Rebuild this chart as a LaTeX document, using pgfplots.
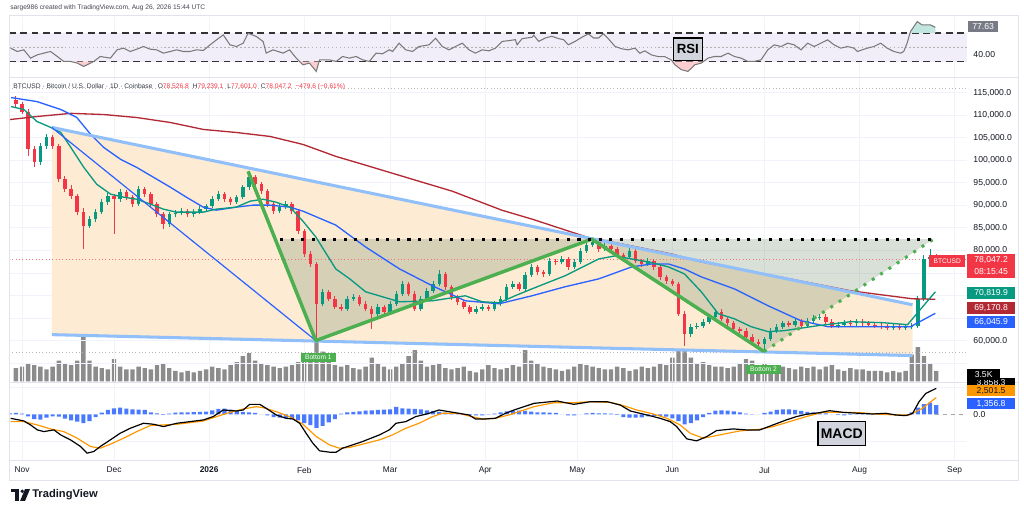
\documentclass[border=0pt]{standalone}
\usepackage{fontspec}
\setmainfont{Liberation Sans}
\usepackage{pgfplots}
\usepackage{pgfplotstable}
\pgfplotsset{compat=1.18}
\definecolor{upc}{HTML}{089981}
\definecolor{dnc}{HTML}{F23645}
\definecolor{mared}{HTML}{B22833}
\definecolor{mablue}{HTML}{2962FF}
\definecolor{magreen}{HTML}{089981}
\definecolor{wedgec}{HTML}{90BFF9}
\definecolor{wgreen}{HTML}{4CAF50}
\definecolor{peach}{HTML}{FDEBD3}
\definecolor{olivec}{RGB}{100,130,100}
\definecolor{volc}{HTML}{8C8C8C}
\definecolor{histc}{HTML}{2962FF}
\definecolor{sigc}{HTML}{FF9800}
\definecolor{rsiband}{HTML}{F2EEF9}
\definecolor{rsiline}{HTML}{7A7A7A}
\definecolor{gridc}{HTML}{F0F3FA}
\definecolor{framec}{HTML}{E0E3EB}
\definecolor{labc}{HTML}{131722}
\definecolor{scalegray}{HTML}{787B86}
\definecolor{boxgray}{HTML}{D1D4DC}
\newcommand\fH{\fontsize{5}{6}\selectfont}
\newcommand\fP{\fontsize{6.5}{7.5}\selectfont}
\newcommand\fM{\fontsize{6.3}{7.5}\selectfont}
\newcommand\fS{\fontsize{5}{6}\selectfont}

% candles (2-day), prices in thousands of USD
\pgfplotstableread{
d o h l c
-2 113.4 114.2 111.8 112.4
0 112.4 113.0 110.3 110.8
2 110.8 111.3 101.0 102.4
4 102.4 103.2 98.6 99.5
6 99.5 103.8 99.0 103.1
8 103.1 105.8 102.6 105.1
10 105.1 105.6 102.5 103.1
12 103.1 103.6 95.2 95.8
14 95.8 96.5 93.0 93.6
16 93.6 94.4 91.4 92.0
18 92.0 92.6 87.8 88.5
20 88.5 89.3 80.3 85.4
22 85.4 87.6 84.9 86.9
24 86.9 89.2 86.4 88.5
26 88.5 91.3 88.0 90.7
28 90.7 92.8 90.1 92.0
30 92.0 92.6 83.6 91.4
32 91.4 93.6 90.8 92.9
34 92.9 93.4 91.1 91.8
36 91.8 92.3 89.6 90.3
38 90.3 94.3 89.8 93.6
40 93.6 94.1 91.9 92.5
42 92.5 93.0 89.7 90.3
44 90.3 90.8 87.4 88.0
46 88.0 88.6 84.7 85.8
48 85.8 88.6 85.3 88.0
50 88.0 88.9 87.4 88.3
52 88.3 89.3 87.8 88.7
54 88.7 89.2 87.4 88.0
56 88.0 89.1 87.5 88.5
58 88.5 89.8 88.0 89.2
60 89.2 90.4 88.7 89.8
62 89.8 92.0 89.3 91.4
64 91.4 93.2 90.9 92.5
66 92.5 93.0 90.8 91.4
68 91.4 91.9 90.1 90.7
70 90.7 92.4 90.2 91.8
72 91.8 94.6 91.3 94.0
74 94.0 97.5 93.5 96.2
76 96.2 96.8 94.1 94.7
78 94.7 95.2 92.5 93.1
80 93.1 93.6 89.7 90.3
82 90.3 90.9 88.1 88.7
84 88.7 90.2 88.2 89.6
86 89.6 90.9 89.1 90.3
88 90.3 90.8 88.1 88.7
90 88.7 89.2 83.7 84.3
92 84.3 84.8 78.6 79.2
94 79.2 79.8 76.4 77.0
96 77.0 77.5 59.9 68.2
98 68.2 71.5 67.6 70.8
100 70.8 71.3 68.7 69.3
102 69.3 69.9 66.9 67.5
104 67.5 68.1 66.5 67.1
106 67.1 69.9 66.6 69.3
108 69.3 70.4 68.8 69.7
110 69.7 70.2 67.6 68.2
112 68.2 68.7 66.5 67.1
114 67.1 67.6 62.6 66.0
116 66.0 68.1 65.5 67.5
118 67.5 68.0 65.8 66.4
120 66.4 68.8 65.9 68.2
122 68.2 71.0 67.7 70.4
124 70.4 73.2 69.9 72.6
126 72.6 73.1 69.8 70.4
128 70.4 70.9 66.5 67.1
130 67.1 69.9 66.6 69.3
132 69.3 71.6 68.8 71.0
134 71.0 73.2 70.5 72.6
136 72.6 75.7 72.1 74.8
138 74.8 75.3 71.3 71.9
140 71.9 72.4 69.1 69.7
142 69.7 70.2 68.0 68.6
144 68.6 69.1 66.9 67.5
146 67.5 68.0 65.8 66.4
148 66.4 67.7 65.9 67.1
150 67.1 68.1 66.6 67.5
152 67.5 68.0 66.5 67.1
154 67.1 68.8 66.6 68.2
156 68.2 69.9 67.7 69.3
158 69.3 72.5 68.8 71.9
160 71.9 73.2 71.4 72.6
162 72.6 73.1 70.9 71.5
164 71.5 75.2 71.0 74.6
166 74.6 76.9 74.1 76.3
168 76.3 76.8 74.6 75.2
170 75.2 75.7 74.2 74.8
172 74.8 78.3 74.3 77.7
174 77.7 78.2 76.8 77.4
176 77.4 78.7 76.9 78.1
178 78.1 78.6 75.7 76.3
180 76.3 78.0 75.8 77.4
182 77.4 80.5 76.9 79.9
184 79.9 81.8 79.4 81.2
186 81.2 82.5 80.7 81.9
188 81.9 82.4 79.7 80.3
190 80.3 81.6 79.8 81.0
192 81.0 81.5 79.7 80.3
194 80.3 80.8 78.4 79.0
196 79.0 79.5 77.9 78.5
198 78.5 80.5 78.0 79.9
200 79.9 80.4 77.1 77.7
202 77.7 78.2 76.4 77.0
204 77.0 78.3 76.5 77.7
206 77.7 78.2 75.7 76.3
208 76.3 76.8 73.5 74.1
210 74.1 74.6 72.6 73.2
212 73.2 73.7 72.0 72.6
214 72.6 73.1 65.4 66.0
216 66.0 66.5 58.9 61.5
218 61.5 63.7 60.9 63.1
220 63.1 63.9 62.6 63.3
222 63.3 64.8 62.8 64.2
224 64.2 65.9 63.7 65.3
226 65.3 67.0 64.8 66.4
228 66.4 66.9 64.3 64.9
230 64.9 65.4 63.2 63.8
232 63.8 64.3 62.0 62.6
234 62.6 63.1 61.6 62.2
236 62.2 62.7 60.3 60.9
238 60.9 61.4 59.2 59.8
240 59.8 60.3 58.7 59.3
242 59.3 60.9 57.8 60.4
244 60.4 62.8 59.9 62.2
246 62.2 63.7 61.7 63.1
248 63.1 64.4 62.6 63.8
250 63.8 64.3 63.0 63.5
252 63.5 65.0 63.0 64.4
254 64.4 64.9 62.7 63.3
256 63.3 65.0 62.8 64.4
258 64.4 65.7 63.9 65.1
260 65.1 65.9 64.6 65.3
262 65.3 65.8 63.6 64.2
264 64.2 64.7 62.7 63.3
266 63.3 64.1 62.8 63.5
268 63.5 64.6 63.0 64.0
270 64.0 64.5 63.2 63.8
272 63.8 64.8 63.3 64.2
274 64.2 64.7 63.2 63.8
276 63.8 64.3 63.0 63.5
278 63.5 64.0 62.7 63.3
280 63.3 63.8 62.5 63.1
282 63.1 63.6 62.3 62.9
284 62.9 63.6 62.4 63.1
286 63.1 63.6 62.3 62.9
288 62.9 63.5 62.4 63.0
290 63.0 63.8 62.5 63.3
292 63.3 70.0 62.8 69.3
294 69.3 79.0 68.8 78.1
296 78.1 80.4 76.8 78.5
298 78.5 79.2 77.6 78.0
}\candles

% volume (thousands)
\pgfplotstableread{
d v
-2 4.5
0 5
2 6
4 5.5
6 5
8 4
10 5
12 7
14 6
16 5.5
18 7
20 15.5
22 7
24 5
26 4.5
28 4
30 7.5
32 5
34 4
36 4
38 5
40 4.5
42 4
44 5.5
46 6
48 4.5
50 3.5
52 3
54 3.5
56 3
58 3.5
60 4
62 5
64 4.5
66 4
68 5.5
70 6.5
72 8.5
74 9.5
76 7
78 6
80 5.5
82 5
84 4.5
86 5
88 5.5
90 6.5
92 7.5
94 9
96 13.5
98 10
100 7
102 5.5
104 5
106 5.5
108 4.5
110 4
112 5
114 8
116 6
118 5
120 4
122 5
124 6
126 8.5
128 10.5
130 7
132 5
134 5.5
136 6
138 4.5
140 4
142 4.5
144 5
146 3.5
148 3
150 4
152 5.5
154 4.5
156 4
158 4.5
160 5.5
162 5
164 10.5
166 7
168 6
170 5
172 4.5
174 4
176 3.5
178 4
180 5
182 6
184 5.5
186 5
188 4.5
190 4
192 4
194 5
196 4.5
198 3.5
200 4
202 5
204 4.5
206 5
208 6
210 5.5
212 8
214 11
216 13
218 8
220 6
222 6.5
224 5.5
226 5
228 5
230 4.5
232 5
234 6
236 7.5
238 7
240 5.5
242 6
244 4.5
246 4
248 5
250 4.5
252 4
254 5
256 4.5
258 5
260 4
262 5
264 5.5
266 4
268 3.5
270 4.5
272 4
274 4
276 3.5
278 3.5
280 3.5
282 3
284 3.5
286 3
288 3.5
290 9
292 11.5
294 8.5
296 6
298 3.5
}\vol

\pgfplotstableread{
d r
-3.7 48.8
-1.5 44.2
0.6 46.5
2.8 35.0
5.0 39.6
7.1 41.9
9.3 44.2
11.5 37.3
13.6 30.4
15.8 30.4
18.0 28.1
20.1 23.5
21.2 25.8
23.4 30.4
25.5 37.3
28.8 35.0
31.0 46.5
33.1 48.8
35.3 44.2
37.4 47.4
39.6 51.1
41.8 47.4
43.9 46.5
46.1 41.9
48.3 44.2
50.4 46.5
52.6 44.2
54.8 44.2
56.9 46.5
59.1 45.6
61.3 53.4
63.4 60.3
65.6 67.2
67.8 53.4
69.9 51.1
72.1 55.7
73.7 69.5
76.4 64.9
78.6 58.0
79.6 41.9
81.8 46.5
85.1 41.9
87.2 46.5
89.4 35.0
91.6 25.8
93.7 28.1
95.9 16.6
97.0 32.7
100.2 32.7
102.4 30.4
104.5 37.3
106.7 35.0
108.9 37.3
111.0 32.7
113.2 30.4
115.4 41.9
117.5 41.0
119.7 46.5
120.8 44.2
122.9 55.7
125.1 46.5
127.3 44.2
129.4 51.1
132.7 53.4
134.8 62.6
137.0 51.1
139.2 46.5
141.3 51.1
143.5 55.7
145.7 46.5
147.8 41.9
150.0 46.5
152.2 45.1
154.3 48.8
156.5 58.2
158.7 59.2
160.8 60.6
161.4 53.5
163.0 62.0
166.2 63.9
166.8 66.7
168.4 58.2
170.6 62.9
172.7 65.3
174.9 62.0
176.5 60.6
178.1 53.5
180.3 58.2
182.5 63.9
184.6 68.6
186.3 62.9
187.9 62.9
189.5 68.6
191.1 62.0
193.3 51.2
195.5 47.9
197.6 46.5
199.8 48.8
201.4 41.8
203.0 45.1
205.2 39.4
207.4 37.1
209.5 37.1
211.7 32.4
212.8 25.8
214.9 19.0
217.1 16.6
219.3 25.8
221.4 28.1
223.6 35.0
225.7 37.3
227.9 37.3
230.1 41.9
232.2 37.3
234.4 35.0
236.6 30.4
238.7 30.4
240.9 32.7
243.1 46.5
245.2 53.4
247.4 51.1
249.6 55.7
251.7 53.4
253.9 46.5
256.1 55.7
258.2 51.1
260.4 55.7
262.6 60.3
264.7 53.4
266.9 48.8
269.1 51.1
271.2 48.8
272.3 44.2
275.5 48.8
277.7 51.1
279.9 55.7
282.0 48.8
284.2 44.2
286.4 41.9
287.4 44.2
288.5 55.7
289.6 71.8
291.8 85.6
293.4 81.0
296.1 81.0
297.7 77.63
}\rsi

\pgfplotstableread{
d m
-3.7 -592
0.6 -986
2.8 -1578
5.0 -2318
7.1 -2565
10.4 -2318
12.6 -3058
15.8 -3798
19.1 -4785
21.2 -5772
23.4 -5525
25.5 -4785
28.8 -3798
32.0 -2811
35.3 -2071
39.6 -1332
42.9 -1480
46.1 -1825
50.4 -1332
54.8 -1085
59.1 -838
62.3 -345
65.6 642
69.9 494
72.1 642
74.2 1480
77.5 1480
79.6 888
82.9 -99
86.1 -592
88.3 -691
90.5 -1332
92.6 -2811
94.8 -4291
97.0 -5426
100.2 -5624
102.4 -5624
104.5 -5031
107.8 -4538
111.0 -4045
113.2 -3650
116.5 -3058
119.7 -2318
121.9 -1332
125.1 -1085
128.3 -345
132.7 148
135.9 642
139.2 395
142.4 148
145.7 -99
147.8 -691
151.1 -691
154.3 -592
157.6 148
160.4 642
166.9 1628
174.5 1974
179.9 1480
185.3 1875
190.7 1875
195.0 1382
198.3 494
203.7 -99
208.0 -592
211.3 -1085
213.4 -1825
215.6 -3058
216.7 -3650
219.9 -3946
223.2 -3305
226.4 -2417
231.8 -2170
236.1 -2318
240.5 -2318
244.8 -1578
249.1 -838
252.4 -345
255.6 0
260.0 247
263.2 543
267.5 296
272.9 148
277.3 50
281.6 148
284.8 -99
288.1 -197
290.3 148
292.4 1875
294.6 3108
298 3858.3
}\macd

\pgfplotstableread{
d s
-3.7 -1085
0.6 -1085
5.0 -1578
9.3 -2170
13.6 -2565
18.0 -3551
22.3 -4785
25.5 -5031
28.8 -4439
33.1 -3551
37.4 -2565
41.8 -1677
46.1 -1578
50.4 -1480
54.8 -1233
59.1 -986
63.4 -345
67.8 296
72.1 790
76.4 1135
78.6 987
82.9 395
87.2 -345
91.6 -1480
95.9 -3305
100.2 -4538
103.4 -5031
106.7 -4932
111.0 -4439
116.5 -3798
120.8 -3058
125.1 -2071
129.4 -1332
133.8 -345
137.0 148
142.4 148
145.7 -247
150.0 -691
154.3 -592
158.7 -99
160.4 148
166.9 1135
173.4 1727
179.9 1727
185.3 1875
191.8 1776
196.1 1283
200.4 642
205.8 50
210.2 -592
214.5 -1578
217.8 -2811
222.1 -3551
227.5 -3058
234.0 -2466
240.5 -2219
244.8 -1825
250.2 -1085
255.6 -345
261.0 296
266.5 296
272.9 247
278.3 50
284.8 -99
289.2 -99
293.5 888
298 2501.5
}\sig

\pgfplotstableread{
d h
-4 150
-2 200
0 100
2 -300
4 -700
6 -800
8 -500
10 -300
12 -350
14 -650
16 -900
18 -1100
20 -1300
22 -1000
24 -400
26 250
28 650
30 900
32 980
34 850
36 750
38 700
40 650
42 300
44 150
46 -100
48 100
50 250
52 280
54 300
56 320
58 350
60 400
62 600
64 800
66 850
68 700
70 500
72 350
74 300
76 200
78 0
80 -150
82 -400
84 -500
86 -600
88 -700
90 -900
92 -1300
94 -1600
96 -2000
98 -1700
100 -1200
102 -700
104 100
106 300
108 350
110 450
112 550
114 600
116 650
118 700
120 750
122 1100
124 900
126 850
128 800
130 750
132 600
134 500
136 350
138 250
140 200
142 150
144 50
146 -100
148 -150
150 -150
152 -50
154 100
156 300
158 450
160 550
162 550
164 500
166 400
168 300
170 300
172 250
174 200
176 0
178 -150
180 -150
182 0
184 150
186 200
188 150
190 150
192 100
194 -100
196 -400
198 -500
200 -500
202 -450
204 -300
206 -250
208 -250
210 -350
212 -600
214 -1000
216 -1500
218 -1300
220 -900
222 -400
224 200
226 550
228 600
230 550
232 450
234 300
236 100
238 -50
240 0
242 200
244 400
246 650
248 750
250 750
252 650
254 500
256 350
258 300
260 250
262 150
264 0
266 -100
268 -150
270 -100
272 -50
274 50
276 50
278 0
280 50
282 50
284 0
286 -50
288 -50
290 300
292 1000
294 1500
296 1750
298 1356.8
}\hist

\pgfplotsset{tvbase/.style={scale only axis, width=721.5pt, xmin=-4.2, xmax=308.1,
  anchor=south west, axis line style={draw=none}, tick style={draw=none},
  xtick={0,30,61,92,120,151,181,212,242,273,304}, xticklabels={},
  grid style={color=gridc, line width=0.6pt}}}

\begin{document}
\begin{tikzpicture}
\begin{scope}[x=0.75pt,y=-0.75pt]
\path[use as bounding box] (0,0) rectangle (1024,516);
\end{scope}

% ---------- volume (overlay, drawn first) ----------
\begin{axis}[tvbase, at={(3.75pt,-287.25pt)}, height=228.75pt, ymin=0, ymax=101.67, hide axis]
\addplot[ybar, bar width=3.3pt, bar shift=0pt, fill=volc, draw=none] table[x=d,y=v]{\vol};
\end{axis}

% ---------- main price pane ----------
\begin{axis}[tvbase, at={(3.75pt,-287.25pt)}, height=228.75pt, ymin=50.94, ymax=118.31,
  xmajorgrids, ymajorgrids, ytick={55,60,...,115},
  yticklabels={{},{60,000.0},{},{},{},{80,000.0},{85,000.0},{90,000.0},{95,000.0},{100,000.0},{105,000.0},{110,000.0},{115,000.0}},
  yticklabel pos=right,
  yticklabel style={font=\fP, text=labc, anchor=west, inner sep=0pt, xshift=4.5pt}]
\addplot[fill=peach, draw=none] coordinates {(9.74,107.27) (290.26,67.95) (290.26,56.68) (9.74,61.32)};
\addplot[fill=olivec, fill opacity=0.25, draw=none] coordinates {(84.09,82.5) (185.71,82.5) (95.78,60.0) (84.09,79.88)};
\addplot[fill=olivec, fill opacity=0.25, draw=none] coordinates {(185.71,82.5) (241.88,57.57) (297.08,82.5)};
\addplot[gray!55, dotted, line width=0.5pt] coordinates {(-4.2,115.88) (308.1,115.88)};
\addplot[gray!55, dotted, line width=0.5pt] coordinates {(-4.2,57.35) (308.1,57.35)};
\addplot[dnc!70, dotted, line width=0.5pt] coordinates {(-4.2,78.05) (308.1,78.05)};
% candles: wicks then bodies
\addplot[upc, line width=0.75pt, quiver={u=0, v={(\thisrow{h}-\thisrow{l})*(\thisrow{c}>=\thisrow{o})}}] table[x=d,y=l]{\candles};
\addplot[dnc, line width=0.75pt, quiver={u=0, v={(\thisrow{h}-\thisrow{l})*(\thisrow{c}<\thisrow{o})}}] table[x=d,y=l]{\candles};
\addplot[upc, line width=2.6pt, quiver={u=0, v={(\thisrow{c}-\thisrow{o})*(\thisrow{c}>=\thisrow{o})}}] table[x=d,y=o]{\candles};
\addplot[dnc, line width=2.6pt, quiver={u=0, v={(\thisrow{c}-\thisrow{o})*(\thisrow{c}<\thisrow{o})}}] table[x=d,y=o]{\candles};
% moving averages
\addplot[mared, line width=1pt] coordinates {(-4.22,109.0) (4.87,109.7) (15.91,110.4) (26.62,110.14) (37.34,109.48) (48.38,108.37) (59.09,106.83) (69.81,106.16) (80.84,105.28) (91.56,103.51) (102.27,100.86) (111.04,99.1) (124.03,96.44) (140.26,93.13) (156.49,88.9) (166.2,86.95) (185.06,82.75) (188.96,82.31) (211.7,79.21) (221.4,77.45) (241.9,74.80) (270.1,71.04) (290.3,69.27) (297.7,69.17)};
\addplot[mablue, line width=1pt] coordinates {(-3.57,113.9) (4.87,113.01) (12.66,111.25) (17.86,109.48) (22.40,105.72) (26.62,102.85) (32.14,100.2) (37.34,98.43) (42.86,96.22) (48.38,94.01) (53.57,91.81) (59.09,89.6) (63.31,88.93) (69.81,89.6) (75.32,90.04) (80.84,90.04) (87.34,89.6) (91.56,88.71) (102.27,85.62) (112.01,80.76) (123.05,75.90) (133.77,72.15) (144.48,68.83) (155.52,68.17) (166.23,69.94) (176.95,71.93) (187.99,73.69) (198.70,76.34) (205.19,77.0) (210.71,77.0) (215.91,75.90) (221.43,74.13) (232.14,71.48) (243.18,67.73) (253.9,64.41) (262.66,63.09) (275.65,63.09) (289.61,63.09) (297.7,66.05)};
\addplot[magreen, line width=1pt] coordinates {(-3.57,111.91) (0.65,111.24) (4.87,108.59) (9.42,107.27) (12.66,106.16) (15.91,102.85) (20.13,98.43) (24.35,94.68) (28.90,92.47) (33.12,91.81) (37.34,91.36) (41.88,90.26) (46.10,89.15) (50.32,88.49) (54.87,88.49) (59.09,88.49) (63.31,89.15) (69.81,89.60) (74.35,90.92) (78.57,91.36) (82.79,90.70) (87.34,89.60) (91.56,86.50) (95.78,82.97) (102.27,75.90) (106.82,73.69) (112.01,70.82) (123.05,68.61) (133.77,68.83) (144.48,69.94) (150.0,68.61) (155.52,68.39) (160.71,69.94) (166.23,71.48) (176.95,74.36) (187.99,78.11) (193.18,78.77) (198.70,78.11) (204.22,77.45) (210.71,76.34) (215.91,74.80) (221.43,70.82) (226.95,65.96) (232.14,64.85) (237.66,63.09) (243.18,61.99) (248.38,62.20) (259.42,63.31) (270.13,64.19) (280.84,63.97) (288.64,63.53) (297.7,70.82)};
% trend lines
\addplot[wedgec, line width=2.3pt] coordinates {(9.74,107.27) (290.26,67.95)};
\addplot[wedgec, line width=2.3pt] coordinates {(9.74,61.32) (290.26,56.68)};
\addplot[mablue, line width=0.9pt] coordinates {(9.74,107.27) (95.78,60.0)};
\addplot[wgreen, line width=2.6pt, line join=round] coordinates {(73.70,97.55) (95.78,60.0) (185.71,82.5) (241.88,57.57)};
\addplot[wgreen, line width=2.3pt, dash pattern=on 2.2pt off 5.3pt] coordinates {(241.88,57.57) (297.08,82.5)};
\addplot[black, line width=2.3pt, dash pattern=on 2.3pt off 5.7pt] coordinates {(84.09,82.5) (297.08,82.5)};
\node[fill=wgreen, text=white, font=\fS, inner xsep=3pt, inner ysep=1.8pt] at (axis cs:96.6,56.24) {Bottom 1};
\node[fill=wgreen, text=white, font=\fS, inner xsep=3pt, inner ysep=1.8pt] at (axis cs:241.7,53.59) {Bottom 2};
\end{axis}

% ---------- RSI pane ----------
\begin{axis}[tvbase, at={(3.75pt,-57.75pt)}, height=45pt, ymin=9.31, ymax=92.07, xmajorgrids, ytick=\empty]
\addplot[fill=rsiband, draw=none] coordinates {(-4.2,30) (308.1,30) (308.1,70) (-4.2,70)};
\addplot[gray!60, dash pattern=on 1.2pt off 1.8pt, line width=0.5pt] coordinates {(-4.2,50) (308.1,50)};
\addplot[black!80, line width=1.1pt, dash pattern=on 5pt off 3.5pt] coordinates {(-4.2,70) (308.1,70)};
\addplot[black!80, line width=1.1pt, dash pattern=on 5pt off 3.5pt] coordinates {(-4.2,30) (308.1,30)};
\addplot[fill=dnc!25, draw=none] coordinates {(16.1,30) (18.0,28.1) (20.1,23.5) (21.2,25.8) (23.0,30)};
\addplot[fill=dnc!25, draw=none] coordinates {(90.5,30) (91.6,25.8) (93.7,28.1) (95.9,16.6) (96.8,30)};
\addplot[fill=dnc!25, draw=none] coordinates {(212.2,30) (212.8,25.8) (214.9,19.0) (217.1,16.6) (219.3,25.8) (221.4,28.1) (222.0,30)};
\addplot[fill=upc!25, draw=none] coordinates {(289.3,70) (289.6,71.8) (291.8,85.6) (293.4,81.0) (296.1,81.0) (297.7,77.63) (297.7,70)};
\addplot[rsiline, line width=0.8pt] table[x=d,y=r]{\rsi};
\end{axis}

% ---------- MACD pane ----------
\begin{axis}[tvbase, at={(3.75pt,-346.5pt)}, height=57.75pt, ymin=-6808, ymax=4588,
  xmajorgrids, ymajorgrids, ytick={-4000,4000}, yticklabels={},
  xticklabels={Nov,Dec,\textbf{2026},Feb,Mar,Apr,May,Jun,Jul,Aug,Sep},
  xticklabel style={font=\fM, text=labc, anchor=north, inner sep=0pt, yshift=-5pt}]
\addplot[ybar, bar width=3.1pt, bar shift=0pt, fill=histc, fill opacity=0.85, draw=none] table[x=d,y=h]{\hist};
\addplot[sigc, line width=0.9pt] table[x=d,y=s]{\sig};
\addplot[black, line width=0.9pt] table[x=d,y=m]{\macd};
\end{axis}

% ---------- annotations in pixel space ----------
\begin{scope}[x=0.75pt,y=-0.75pt]
\draw[framec, line width=0.75pt] (5,16) rectangle (1018,482);
\draw[framec, line width=0.75pt] (5,77.5) -- (1018,77.5);
\draw[framec, line width=0.75pt] (5,384) -- (1018,384);
\draw[framec, line width=0.75pt] (5,462) -- (1018,462);
\node[anchor=west, font=\fH, text=labc!80, inner sep=0pt] at (6,8) {sarge986 created with TradingView.com, Aug 26, 2026 15:44 UTC};
\node[anchor=west, font=\fH, text=labc!85, inner sep=0pt] at (9,87) {BTCUSD · Bitcoin / U.S. Dollar · 1D · Coinbase\hspace{4pt}O\textcolor{dnc}{78,526.8}\hspace{3pt}H\textcolor{dnc}{79,239.1}\hspace{3pt}L\textcolor{dnc}{77,601.0}\hspace{3pt}C\textcolor{dnc}{78,047.2}\hspace{3pt}\textcolor{dnc}{−479.6 (−0.61\%)}};
% RSI scale
\fill[scalegray] (968,21.5) rectangle (998,32.5);
\node[font=\fP, text=white, inner sep=0pt] at (983,27) {77.63};
\node[font=\fP, text=labc, inner sep=0pt, anchor=west] at (973,55) {40.00};
% price labels
\fill[dnc] (929,256) rectangle (965,268);
\node[font=\fS, text=white, inner sep=0pt] at (947,262) {BTCUSD};
\fill[dnc] (967,255.5) rectangle (1015,279.5);
\node[font=\fP, text=white, inner sep=0pt] at (991,261.5) {78,047.2};
\node[font=\fP, text=white, inner sep=0pt] at (991,273) {08:15:45};
\fill[upc] (967,288) rectangle (1015,300);
\node[font=\fP, text=white, inner sep=0pt] at (991,294) {70,819.9};
\fill[mared] (967,303) rectangle (1015,315);
\node[font=\fP, text=white, inner sep=0pt] at (991,309) {69,170.8};
\fill[mablue] (967,317) rectangle (1015,329);
\node[font=\fP, text=white, inner sep=0pt] at (991,323) {66,045.9};
% MACD scale
\fill[black] (967,380) rectangle (1015,389);
\node[font=\fP, text=white, inner sep=0pt] at (991,385) {3,858.3};
\fill[black] (967,371) rectangle (1000,382);
\node[font=\fP, text=white, inner sep=0pt] at (983.5,376.5) {3.5K};
\fill[sigc] (967,387) rectangle (1015,398);
\node[font=\fP, text=labc, inner sep=0pt] at (991,392.5) {2,501.5};
\fill[mablue] (967,400) rectangle (1015,411);
\node[font=\fP, text=white, inner sep=0pt] at (991,405.5) {1,356.8};
\draw[gray!70, dashed, line width=0.5pt] (935,416) -- (967,416);
\node[font=\fP, text=labc, inner sep=0pt, anchor=west] at (973,416.5) {0.0};
% pane labels
\node[draw=black, line width=1pt, fill=boxgray, font=\bfseries\fontsize{10}{12}\selectfont, inner sep=0pt, minimum width=21.75pt, minimum height=17pt] at (686.5,49.5) {RSI};
\node[draw=black, line width=1pt, fill=boxgray, font=\bfseries\fontsize{10.5}{12}\selectfont, inner sep=0pt, minimum width=36pt, minimum height=18pt] at (841,435) {MACD};
% logo
\fill[labc] (7,491) rectangle (15,494.5);
\fill[labc] (11,491) rectangle (15,503);
\fill[labc] (18.2,493.2) circle (1.9);
\fill[labc] (21,491) -- (26,491) -- (21,503) -- (16,503) -- cycle;
\node[anchor=west, font=\bfseries\fontsize{8.4}{10}\selectfont, text=labc, inner sep=0pt] at (28,497) {TradingView};
\end{scope}
\end{tikzpicture}
\end{document}
